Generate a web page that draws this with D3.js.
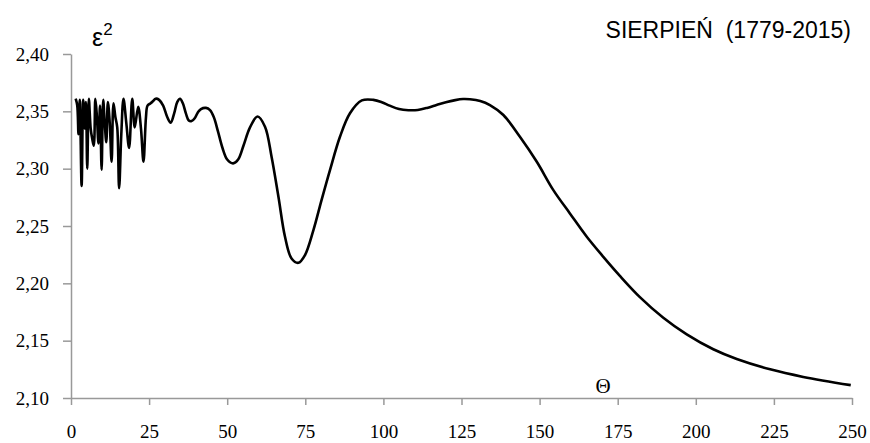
<!DOCTYPE html>
<html>
<head>
<meta charset="utf-8">
<script src="https://cdnjs.cloudflare.com/ajax/libs/d3/7.8.5/d3.min.js"></script>
<style>
  body { margin: 0; background: #fff; }
  svg { display: block; }
</style>
</head>
<body>
<svg width="870" height="443"></svg>
<script>
// data
var theta = [1.5, 2.0, 2.4, 2.8, 3.4, 3.9, 4.4, 4.8, 5.2, 5.7, 6.3, 6.8, 7.3, 7.8, 8.3, 8.8, 9.3, 9.8,
  10.3, 10.8, 11.3, 11.8, 12.4, 13.0, 13.6, 14.2, 14.8, 15.4, 16.1, 16.8, 17.7, 18.6, 19.6, 20.4,
  21.5, 22.4, 23.2, 24.0, 24.5, 25.5, 26.3, 27.1, 28.2, 29.5, 30.8, 31.9, 33.0, 34.0, 34.9, 35.8,
  36.8, 37.7, 38.6, 39.6, 40.6, 41.6, 43.2, 44.5, 45.7, 47.0, 48.5, 50.0, 51.9, 53.5, 55.2, 57.3,
  59.7, 62.1, 64.2, 66.4, 68.5, 70.6, 72.8, 74.9, 77.6, 80.2, 82.9, 86.1, 89.3, 93.1, 96.8, 99.5,
  102, 105, 108, 111, 114, 117, 120, 123, 125.5, 127.7, 131, 134.1, 138.4, 143.7, 149.1, 154.4,
  159.7, 165.1, 170.4, 175.7, 182.1, 189.6, 197.1, 205.6, 213.1, 223.8, 234.4, 249.6];

var eps2 = [2.361, 2.355, 2.330, 2.360, 2.285, 2.360, 2.335, 2.358, 2.300, 2.361, 2.335, 2.326, 2.320,
  2.361, 2.345, 2.322, 2.355, 2.299, 2.360, 2.340, 2.323, 2.358, 2.340, 2.306, 2.357, 2.345, 2.336,
  2.283, 2.330, 2.361, 2.340, 2.318, 2.361, 2.336, 2.354, 2.335, 2.306, 2.345, 2.355, 2.357, 2.359,
  2.361, 2.360, 2.355, 2.345, 2.340, 2.348, 2.358, 2.361, 2.357, 2.348, 2.342, 2.3415, 2.344, 2.349,
  2.352, 2.353, 2.351, 2.345, 2.333, 2.318, 2.308, 2.3046, 2.308, 2.320, 2.336,
  2.3455, 2.3366, 2.3104, 2.2755, 2.2406, 2.2217, 2.2179, 2.2246, 2.2464, 2.2726, 2.2988, 2.3278,
  2.3483, 2.3595, 2.3600, 2.358, 2.355, 2.352, 2.351, 2.3512, 2.353, 2.3555, 2.358, 2.3598, 2.3607,
  2.3605, 2.359, 2.3555, 2.3468, 2.3278, 2.306, 2.2813, 2.261, 2.2406, 2.2231, 2.2065, 2.188,
  2.170, 2.1555, 2.1425, 2.134, 2.125, 2.1184, 2.1112];

var xTicks = [0, 25, 50, 75, 100, 125, 150, 175, 200, 225, 250];
var yTicks = [2.10, 2.15, 2.20, 2.25, 2.30, 2.35, 2.40];

var title = "SIERPIEŃ  (1779-2015)";

var svg = d3.select("svg");
var margin = {left: 71, right: 852, top: 54, bottom: 398};

var x = d3.scaleLinear().domain([0, 250]).range([margin.left, margin.right]);
var y = d3.scaleLinear().domain([2.10, 2.40]).range([margin.bottom, margin.top]);

var fmt = function(d) { return d3.format(".2f")(d).replace(".", ","); };

var gX = svg.append("g")
  .attr("transform", "translate(0," + margin.bottom + ")")
  .call(d3.axisBottom(x).tickValues(xTicks).tickSize(7).tickPadding(20).tickSizeOuter(0));

var gY = svg.append("g")
  .attr("transform", "translate(" + margin.left + ",0)")
  .call(d3.axisLeft(y).tickValues(yTicks).tickFormat(fmt).tickSize(8).tickPadding(14).tickSizeOuter(0));

[gX, gY].forEach(function(g) {
  g.selectAll("path, line").attr("stroke", "#999").attr("stroke-width", 1.5);
  g.selectAll("text")
    .attr("fill", "#000")
    .style("font-family", "'Liberation Serif', 'Times New Roman', serif")
    .style("font-size", "19px");
});

var data = theta.map(function(t, i) { return [t, eps2[i]]; });

var line = d3.line()
  .x(function(d) { return x(d[0]); })
  .y(function(d) { return y(d[1]); })
  .curve(d3.curveCatmullRom.alpha(0.5));

svg.append("path")
  .datum(data)
  .attr("fill", "none")
  .attr("stroke", "#000")
  .attr("stroke-width", 2.6)
  .attr("stroke-linejoin", "round")
  .attr("d", line);

// labels
svg.append("text")
  .attr("x", 851).attr("y", 38)
  .attr("text-anchor", "end")
  .style("white-space", "pre")
  .style("font-family", "'Liberation Sans', Arial, sans-serif")
  .style("font-size", "23px")
  .text(title);

var eps = svg.append("text")
  .attr("x", 92).attr("y", 46)
  .style("font-family", "'Liberation Sans', Arial, sans-serif")
  .style("font-size", "25px");
eps.append("tspan").text("ε");
eps.append("tspan").attr("dy", -11).style("font-size", "17px").text("2");

svg.append("text")
  .attr("x", 603).attr("y", 393)
  .attr("text-anchor", "middle")
  .style("font-family", "'Liberation Serif', 'Times New Roman', serif")
  .style("font-size", "21px")
  .text("Θ");
</script>
</body>
</html>
